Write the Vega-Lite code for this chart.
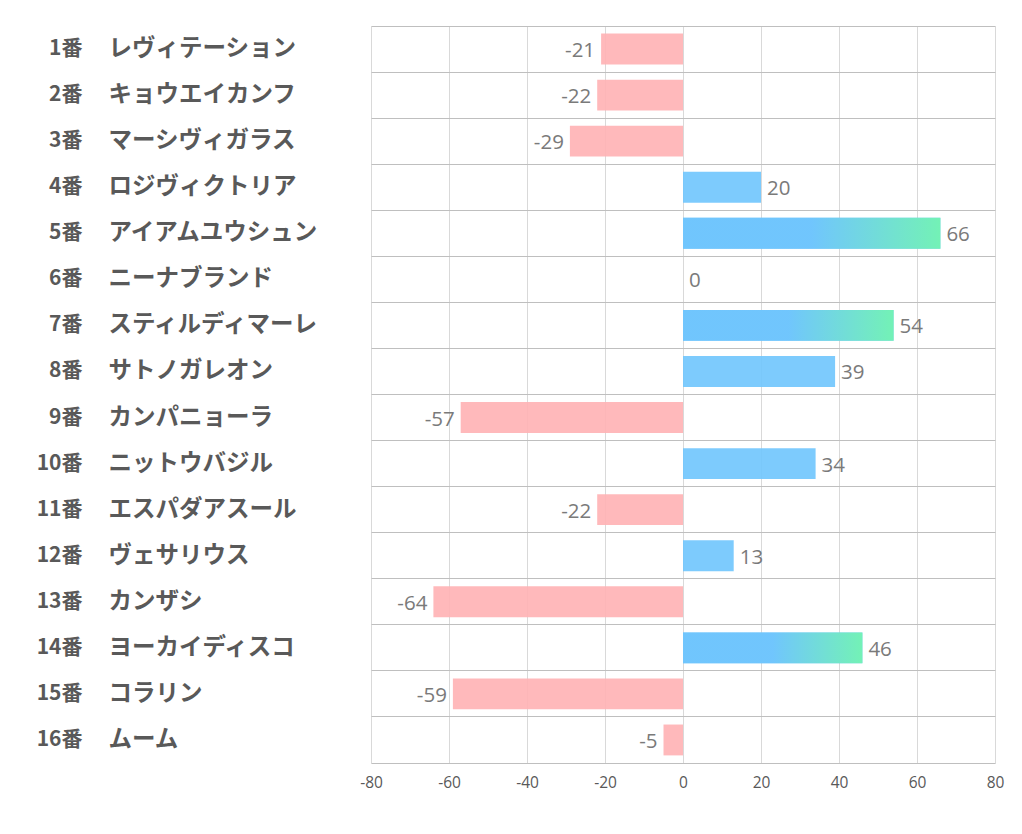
{
  "$schema": "https://vega.github.io/schema/vega-lite/v6.json",
  "autosize": {"type": "none"},
  "padding": {"left": 371, "top": 26, "right": 27, "bottom": 71},
  "width": 624,
  "height": 737,
  "config": {"view": {"stroke": null}, "background": "white"},
  "data": {
    "values": [
      {"label": "1番|レヴィテーション", "value": -21},
      {"label": "2番|キョウエイカンフ", "value": -22},
      {"label": "3番|マーシヴィガラス", "value": -29},
      {"label": "4番|ロジヴィクトリア", "value": 20},
      {"label": "5番|アイアムユウシュン", "value": 66},
      {"label": "6番|ニーナブランド", "value": 0},
      {"label": "7番|スティルディマーレ", "value": 54},
      {"label": "8番|サトノガレオン", "value": 39},
      {"label": "9番|カンパニョーラ", "value": -57},
      {"label": "10番|ニットウバジル", "value": 34},
      {"label": "11番|エスパダアスール", "value": -22},
      {"label": "12番|ヴェサリウス", "value": 13},
      {"label": "13番|カンザシ", "value": -64},
      {"label": "14番|ヨーカイディスコ", "value": 46},
      {"label": "15番|コラリン", "value": -59},
      {"label": "16番|ムーム", "value": -5}
    ]
  },
  "resolve": {"axis": {"y": "independent"}},
  "layer": [
    {
      "mark": {"type": "bar", "height": {"band": 0.67}, "opacity": 0.9},
      "encoding": {
        "y": {
          "field": "label", "type": "nominal", "sort": null,
          "scale": {"paddingInner": 0, "paddingOuter": 0},
          "axis": {
            "title": null, "orient": "left", "domain": false, "ticks": false,
            "grid": true, "bandPosition": 0, "gridColor": "#bfbfbf", "gridWidth": 1,
            "labelExpr": "split(datum.value, '|')[1]",
            "labelAlign": "left", "labelPadding": 263, "labelLimit": 500,
            "labelOverlap": false,
            "labelFont": "Noto Sans CJK JP", "labelFontWeight": "bold",
            "labelFontSize": 23.5, "labelColor": "#595959"
          }
        },
        "x": {
          "field": "value", "type": "quantitative",
          "scale": {"domain": [-80, 80], "nice": false, "zero": true},
          "axis": {
            "title": null, "values": [-80, -60, -40, -20, 0, 20, 40, 60, 80],
            "labelExpr": "replace(datum.label, '−', '-')",
            "labelFlush": false,
            "grid": true, "gridColor": "#d9d9d9", "ticks": false,
            "domain": true, "domainColor": "#bfbfbf",
            "labelFont": "Open Sans", "labelFontSize": 15.5, "labelColor": "#595959",
            "labelPadding": 12
          }
        },
        "color": {
          "condition": {"test": "datum.value < 0", "value": "#ffb1b4"},
          "value": "#6fc5fd"
        }
      }
    },
    {
      "transform": [{"filter": "datum.value > 40"}],
      "mark": {
        "type": "bar", "height": {"band": 0.67}, "opacity": 0.9,
        "color": {
          "gradient": "linear", "x1": 0, "x2": 1, "y1": 0, "y2": 0,
          "stops": [
            {"offset": 0, "color": "#6fc5fd"},
            {"offset": 0.5, "color": "#6fc5fd"},
            {"offset": 1, "color": "#72f6ae"}
          ]
        }
      },
      "encoding": {
        "y": {"field": "label", "type": "nominal", "sort": null, "axis": null},
        "x": {"field": "value", "type": "quantitative"}
      }
    },
    {
      "transform": [{"filter": "datum.value >= 0"}],
      "mark": {"type": "text", "align": "left", "dx": 6, "dy": 2, "font": "Open Sans", "fontSize": 20.5, "color": "#7a7a7a"},
      "encoding": {
        "y": {
          "field": "label", "type": "nominal", "sort": null,
          "axis": {
            "title": null, "orient": "left", "domain": false, "ticks": false, "grid": false,
            "labelExpr": "split(datum.value, '|')[0]",
            "labelAlign": "right", "labelPadding": 289, "labelLimit": 500,
            "labelOverlap": false,
            "labelFont": "Noto Sans CJK JP", "labelFontWeight": "bold",
            "labelFontSize": 21, "labelColor": "#595959"
          }
        },
        "x": {"field": "value", "type": "quantitative"},
        "text": {"field": "value", "type": "nominal"}
      }
    },
    {
      "transform": [{"filter": "datum.value < 0"}],
      "mark": {"type": "text", "align": "right", "dx": -6, "dy": 2, "font": "Open Sans", "fontSize": 20.5, "color": "#7a7a7a"},
      "encoding": {
        "y": {"field": "label", "type": "nominal", "sort": null, "axis": null},
        "x": {"field": "value", "type": "quantitative"},
        "text": {"field": "value", "type": "nominal"}
      }
    }
  ]
}
